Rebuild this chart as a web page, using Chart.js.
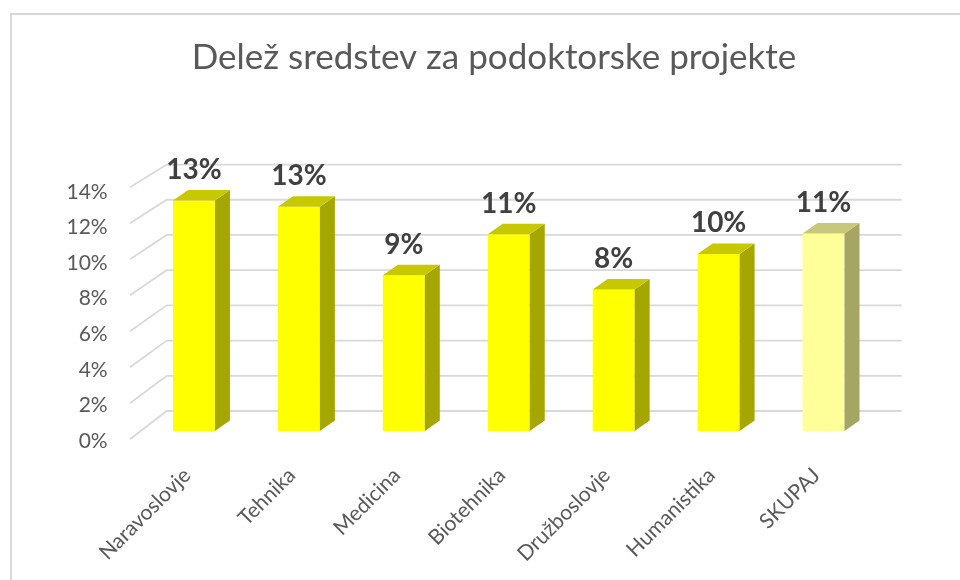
<!DOCTYPE html>
<html><head><meta charset="utf-8">
<script src="https://cdn.jsdelivr.net/npm/chart.js@4"></script>
<style>html,body{margin:0;padding:0;background:#fff;}</style>
</head><body>
<canvas id="c" width="960" height="580"></canvas>
<script>
const categories = ['Naravoslovje','Tehnika','Medicina','Biotehnika','Družboslovje','Humanistika','SKUPAJ'];
const shares = [12.95, 12.6, 8.75, 11.05, 7.95, 9.95, 11.1];
const shareLabels = ['13%','13%','9%','11%','8%','10%','11%'];
const yTicks = [0, 2, 4, 6, 8, 10, 12, 14];
const titleText = 'Delež sredstev za podoktorske projekte';

const frontColors = ['#FFFF00','#FFFF00','#FFFF00','#FFFF00','#FFFF00','#FFFF00','#FFFF99'];
const topColors   = ['#C8C800','#C8C800','#C8C800','#C8C800','#C8C800','#C8C800','#C8C87A'];
const sideColors  = ['#A6A600','#A6A600','#A6A600','#A6A600','#A6A600','#A6A600','#A6A664'];

const frame = {
  id: 'frame',
  beforeDraw(chart) {
    const ctx = chart.ctx;
    ctx.save();
    ctx.fillStyle = '#fff';
    ctx.fillRect(0, 0, chart.width, chart.height);
    ctx.strokeStyle = '#D9D9D9';
    ctx.lineWidth = 2;
    ctx.beginPath();
    ctx.moveTo(11, chart.height);
    ctx.lineTo(11, 14);
    ctx.lineTo(chart.width, 14);
    ctx.stroke();
    ctx.restore();
  }
};

const excel3d = {
  id: 'excel3d',
  beforeDatasetsDraw(chart) {
    const ctx = chart.ctx, ys = chart.scales.y, xs = chart.scales.x;
    const y0 = ys.getPixelForValue(0);
    const front = v => y0 + 8.3 + (ys.getPixelForValue(v) - y0) * 1.011;
    const back = v => y0 - 20 + (ys.getPixelForValue(v) - y0) * 0.989;
    const xf = xs.left - 11.5, xb = xs.left + 25.2, xr = xs.right + 25.7;
    ctx.save();
    ctx.strokeStyle = '#D9D9D9';
    ctx.lineWidth = 1.8;
    ys.ticks.forEach(t => {
      ctx.beginPath();
      ctx.moveTo(xf, front(t.value));
      ctx.lineTo(xb, back(t.value));
      ctx.lineTo(xr, back(t.value));
      ctx.stroke();
    });
    ctx.restore();
  },
  afterDatasetsDraw(chart) {
    const ctx = chart.ctx;
    const meta = chart.getDatasetMeta(0);
    const dx = 15, dy = -10.5;
    ctx.save();
    meta.data.forEach((bar, i) => {
      const p = bar.getProps(['x', 'y', 'base', 'width'], true);
      const x1 = p.x - p.width / 2, x2 = p.x + p.width / 2;
      const top = Math.min(p.y, p.base), bot = Math.max(p.y, p.base);
      ctx.fillStyle = sideColors[i];
      ctx.beginPath();
      ctx.moveTo(x2, top); ctx.lineTo(x2 + dx, top + dy);
      ctx.lineTo(x2 + dx, bot + dy); ctx.lineTo(x2, bot); ctx.closePath(); ctx.fill();
      ctx.fillStyle = topColors[i];
      ctx.beginPath();
      ctx.moveTo(x1, top); ctx.lineTo(x1 + dx, top + dy);
      ctx.lineTo(x2 + dx, top + dy); ctx.lineTo(x2, top); ctx.closePath(); ctx.fill();
      ctx.fillStyle = '#404040';
      ctx.font = 'bold 28px Lato';
      ctx.textAlign = 'center';
      ctx.textBaseline = 'alphabetic';
      ctx.fillText(shareLabels[i], p.x, top - 21.5);
    });
    ctx.restore();
  }
};

new Chart(document.getElementById('c'), {
  type: 'bar',
  data: {
    labels: categories,
    datasets: [{
      data: shares,
      backgroundColor: frontColors,
      borderWidth: 0,
      categoryPercentage: 1,
      barPercentage: 0.4
    }]
  },
  options: {
    responsive: false,
    animation: false,
    devicePixelRatio: 1,
    layout: { padding: { left: 28, right: 0, top: 14, bottom: 0 } },
    plugins: {
      legend: { display: false },
      tooltip: { enabled: false },
      title: {
        display: true,
        text: titleText,
        color: '#595959',
        font: { family: 'Lato', size: 35, weight: 'normal', lineHeight: 1.2 },
        padding: { top: 23, bottom: 102.8 }
      }
    },
    scales: {
      x: {
        grid: { display: false, drawTicks: false },
        border: { display: false },
        afterFit(s) { s.height = 149; },
        ticks: {
          autoSkip: false, maxRotation: 45, minRotation: 45,
          color: '#595959', font: { family: 'Lato', size: 21 },
          padding: 32, labelOffset: -7
        }
      },
      y: {
        min: 0, max: 14,
        afterFit(s) { s.width = 113.5; },
        afterBuildTicks(s) { s.ticks = yTicks.map(v => ({ value: v })); },
        grid: { display: false, drawTicks: false },
        border: { display: false },
        ticks: {
          color: '#595959', font: { family: 'Lato', size: 21 },
          padding: 33.8, labelOffset: 10,
          callback: v => v + '%'
        }
      },
      spacer: {
        type: 'linear',
        position: 'right',
        display: true,
        afterFit(s) { s.width = 84; },
        grid: { display: false, drawTicks: false },
        border: { display: false },
        ticks: { display: false }
      }
    }
  },
  plugins: [frame, excel3d]
});
</script>
</body></html>
